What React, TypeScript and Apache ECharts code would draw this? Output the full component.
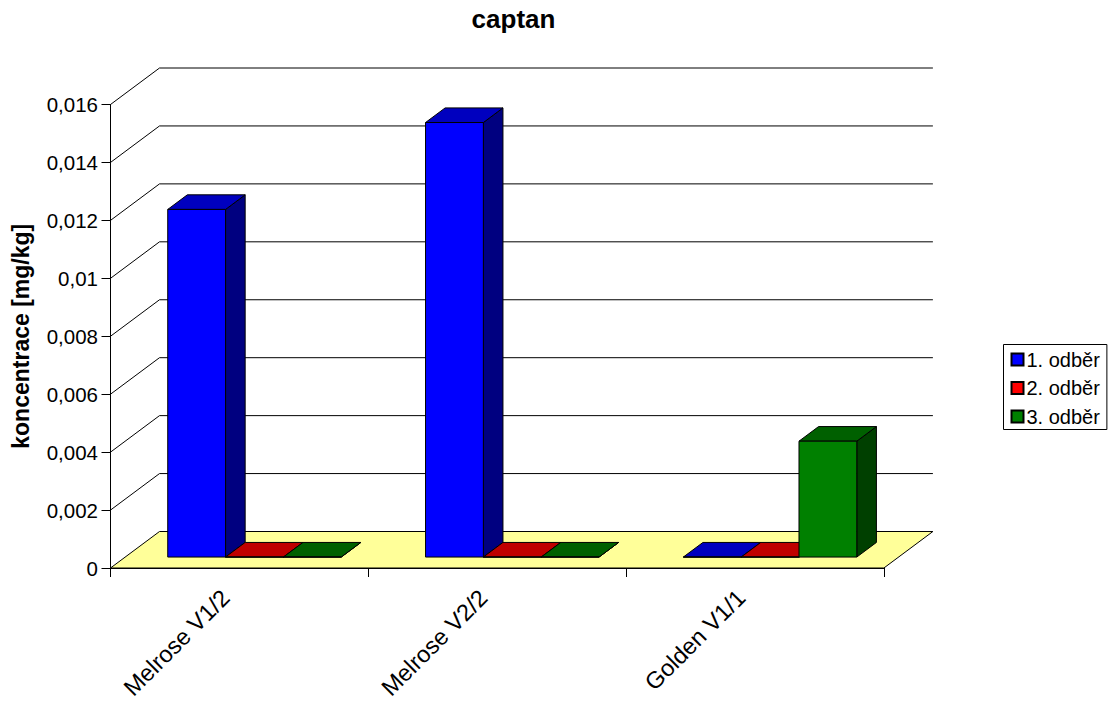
import React, { useEffect, useRef } from "react";
import * as echarts from "echarts";

const categories = ["Melrose V1/2", "Melrose V2/2", "Golden V1/1"];
const seriesNames = ["1. odběr", "2. odběr", "3. odběr"];
const firstSample = [0.012, 0.015, 0];
const secondSample = [0, 0, 0];
const thirdSample = [0, 0, 0.004];
const wallTicks = [0.002, 0.004, 0.006, 0.008, 0.01, 0.012, 0.014, 0.016];

const FONT = "'Liberation Sans', Arial, sans-serif";

// Oblique projection of the chart's depth axis, in pixels.
const DEPTH_X = 49;
const DEPTH_Y = -36.5;
// Bars occupy the middle 40% of the depth.
const BAR_NEAR = 0.3;
const BAR_DEPTH = 0.4;
const BAR_WIDTH_RATIO = 0.2243;
const BAR_START_RATIO = 0.165;

const palette = [
  { front: "#0000FF", top: "#0000BF", side: "#000080" },
  { front: "#FF0000", top: "#BF0000", side: "#800000" },
  { front: "#008000", top: "#006000", side: "#004000" },
];

const outline = { stroke: "#000", lineWidth: 1 };

function poly(points: number[][], fill: string) {
  return { type: "polygon", shape: { points }, style: { fill, ...outline } };
}

function barSeries(name: string, values: number[], index: number) {
  const colors = palette[index];
  return {
    type: "custom",
    name,
    z: 5 + index,
    itemStyle: { color: colors.front, borderColor: "#000", borderWidth: 1 },
    data: values.map((v, i) => [i, v]),
    encode: { x: 0, y: 1 },
    renderItem: (_params: any, api: any) => {
      const cat = api.value(0);
      const band = api.size([1, 0])[0];
      const base = api.coord([cat, 0]);
      const top = api.coord([cat, api.value(1)]);
      const width = band * BAR_WIDTH_RATIO;
      const x0 = base[0] - band / 2 + band * BAR_START_RATIO + index * width + DEPTH_X * BAR_NEAR;
      const x1 = x0 + width;
      const yb = base[1] + DEPTH_Y * BAR_NEAR;
      const yt = top[1] + DEPTH_Y * BAR_NEAR;
      const dx = DEPTH_X * BAR_DEPTH;
      const dy = DEPTH_Y * BAR_DEPTH;
      return {
        type: "group",
        children: [
          poly([[x1, yb], [x1 + dx, yb + dy], [x1 + dx, yt + dy], [x1, yt]], colors.side),
          poly([[x0, yt], [x1, yt], [x1 + dx, yt + dy], [x0 + dx, yt + dy]], colors.top),
          poly([[x0, yb], [x1, yb], [x1, yt], [x0, yt]], colors.front),
        ],
      };
    },
  };
}

export default function App() {
  const ref = useRef<HTMLDivElement>(null);

  useEffect(() => {
    const chart = echarts.init(ref.current!, undefined, { renderer: "svg" });
    chart.setOption({
      animation: false,
      backgroundColor: "#fff",
      title: {
        text: "captan",
        left: 508.5,
        top: 1,
        textAlign: "center",
        textStyle: { fontFamily: FONT, fontSize: 26, fontWeight: "bold", color: "#000" },
      },
      legend: {
        data: seriesNames,
        orient: "vertical",
        left: 1003.5,
        top: 344.5,
        padding: [5, 7, 3, 7],
        itemGap: 8.5,
        itemWidth: 12,
        itemHeight: 12,
        icon: "rect",
        borderColor: "#000",
        borderWidth: 1,
        textStyle: { fontFamily: FONT, fontSize: 20, color: "#000", padding: [0, 0, 0, -2] },
      },
      grid: { left: 110.5, top: 104.5, width: 773.4, height: 463.5, outerBoundsMode: "none" },
      xAxis: {
        type: "category",
        data: categories,
        axisLine: { lineStyle: { color: "#000", width: 1 } },
        axisTick: { show: true, length: 9, lineStyle: { color: "#000" } },
        axisLabel: {
          rotate: 45,
          margin: 12,
          padding: [0, 19.5, 16, 0],
          fontFamily: FONT,
          fontSize: 23.5,
          color: "#000",
        },
      },
      yAxis: {
        type: "value",
        min: 0,
        max: 0.016,
        interval: 0.002,
        name: "koncentrace [mg/kg]",
        nameLocation: "middle",
        nameGap: 78,
        nameTextStyle: { fontFamily: FONT, fontSize: 23, fontWeight: "bold", color: "#000" },
        axisLine: { show: true, lineStyle: { color: "#000", width: 1 } },
        axisTick: { show: true, length: 9, lineStyle: { color: "#000" } },
        splitLine: { show: false },
        axisLabel: {
          margin: 12.5,
          fontFamily: FONT,
          fontSize: 20.5,
          color: "#000",
          formatter: (v: number) => String(v).replace(".", ","),
        },
      },
      series: [
        {
          // Back-wall grid lines with their oblique returns to the value axis.
          type: "custom",
          name: "wall",
          z: 1,
          silent: true,
          data: wallTicks.map((v) => [0, v]),
          encode: { x: 0, y: 1 },
          renderItem: (_params: any, api: any) => {
            const band = api.size([1, 0])[0];
            const p = api.coord([0, api.value(1)]);
            const x0 = p[0] - band / 2;
            const x1 = x0 + band * categories.length;
            const bx = x0 + DEPTH_X;
            const by = p[1] + DEPTH_Y;
            return {
              type: "polyline",
              shape: { points: [[x0, p[1]], [bx, by], [x1 + DEPTH_X, by]] },
              style: { fill: "none", ...outline },
            };
          },
        },
        {
          // Pale yellow floor of the plot.
          type: "custom",
          name: "floor",
          z: 2,
          silent: true,
          data: [[0, 0]],
          encode: { x: 0, y: 1 },
          renderItem: (_params: any, api: any) => {
            const band = api.size([1, 0])[0];
            const p = api.coord([0, 0]);
            const x0 = p[0] - band / 2;
            const x1 = x0 + band * categories.length;
            return poly(
              [[x0, p[1]], [x0 + DEPTH_X, p[1] + DEPTH_Y], [x1 + DEPTH_X, p[1] + DEPTH_Y], [x1, p[1]]],
              "#FFFF99"
            );
          },
        },
        barSeries(seriesNames[0], firstSample, 0),
        barSeries(seriesNames[1], secondSample, 1),
        barSeries(seriesNames[2], thirdSample, 2),
      ],
    });
    return () => chart.dispose();
  }, []);

  return (
    <div
      ref={ref}
      style={{ position: "absolute", left: 0, top: 0, width: 1114, height: 701 }}
    />
  );
}
